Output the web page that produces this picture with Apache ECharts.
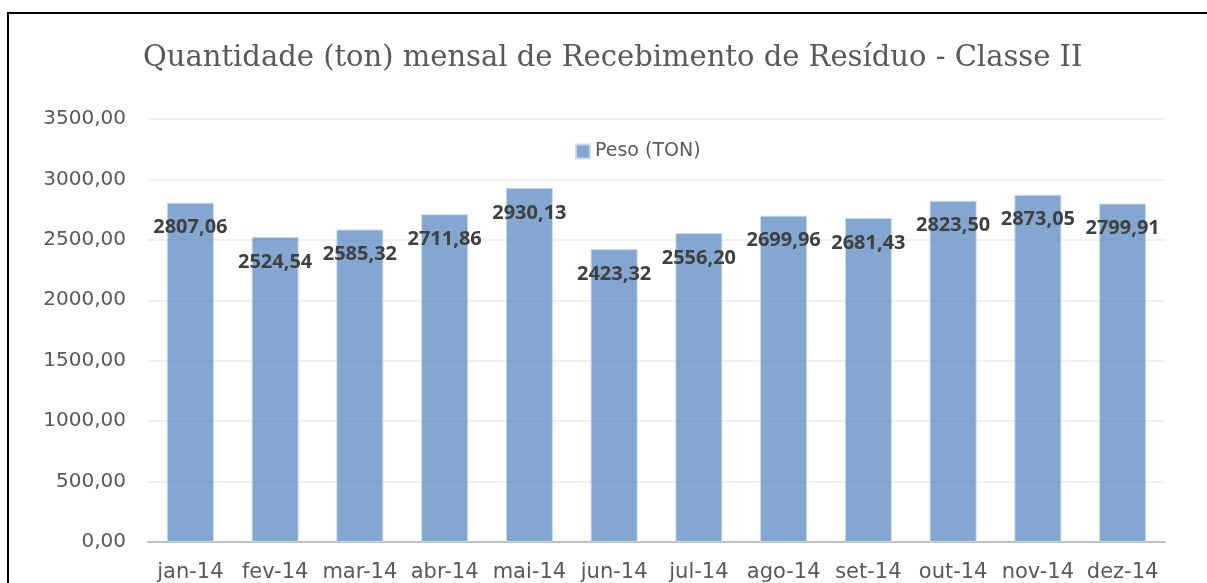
<!DOCTYPE html>
<html>
<head>
<meta charset="utf-8">
<script src="https://cdn.jsdelivr.net/npm/echarts@6/dist/echarts.min.js"></script>
<style>
  html, body { margin: 0; padding: 0; background: #fff; overflow: hidden; }
  #chart { position: absolute; left: 0; top: 0; width: 1207px; height: 583px; }
  #frame { position: absolute; left: 7px; top: 12px; width: 1300px; height: 700px;
           border-left: 2px solid #000; border-top: 2px solid #000; pointer-events: none; }
</style>
</head>
<body>
<div id="chart"></div>
<div id="frame"></div>
<script>
const title = 'Quantidade (ton) mensal de Recebimento de Resíduo - Classe II';
const seriesName = 'Peso (TON)';
const months = ['jan-14', 'fev-14', 'mar-14', 'abr-14', 'mai-14', 'jun-14',
                'jul-14', 'ago-14', 'set-14', 'out-14', 'nov-14', 'dez-14'];
const pesoTon = [2807.06, 2524.54, 2585.32, 2711.86, 2930.13, 2423.32,
                 2556.20, 2699.96, 2681.43, 2823.50, 2873.05, 2799.91];

// formato pt-BR: vírgula decimal
const fmt = (v) => Number(v).toFixed(2).replace('.', ',');

const chart = echarts.init(document.getElementById('chart'));
const barColor = 'rgba(79,129,189,0.7)';

chart.setOption({
  animation: false,
  title: {
    text: title,
    left: 143,
    top: 44,
    padding: 0,
    textStyle: { fontFamily: 'DejaVu Serif', fontSize: 29, fontWeight: 'normal', color: '#595959' },
  },
  legend: {
    data: [seriesName],
    top: 142,
    left: 575,
    padding: 0,
    itemWidth: 14,
    itemHeight: 14,
    itemGap: 6,
    icon: 'rect',
    textStyle: { fontFamily: 'DejaVu Sans', fontSize: 19, color: '#595959', padding: [0, 0, 0, 0] },
  },
  grid: { left: 148, right: 42, top: 119, bottom: 40 },
  xAxis: {
    type: 'category',
    data: months,
    axisTick: { show: false },
    axisLine: { lineStyle: { color: '#BFBFBF', width: 2 } },
    axisLabel: { interval: 0, fontFamily: 'DejaVu Sans', fontSize: 21, color: '#595959', margin: 20 },
  },
  yAxis: {
    type: 'value',
    min: 0,
    max: 3500,
    interval: 500,
    axisLine: { show: false },
    axisTick: { show: false },
    splitLine: { lineStyle: { color: '#EDEDED', width: 1.5 } },
    axisLabel: { fontFamily: 'DejaVu Sans', fontSize: 20, color: '#595959', margin: 22, formatter: fmt },
  },
  series: [
    {
      name: seriesName,
      type: 'bar',
      data: pesoTon,
      barWidth: 47,
      itemStyle: { color: barColor, borderColor: 'rgba(200,218,238,0.9)', borderWidth: 1 },
      label: {
        show: true,
        position: 'insideTop',
        distance: 15,
        fontFamily: 'Open Sans',
        fontWeight: 'bold',
        fontSize: 20,
        lineHeight: 20,
        color: '#404040',
        formatter: (p) => fmt(p.value),
      },
    },
  ],
});
</script>
</body>
</html>
